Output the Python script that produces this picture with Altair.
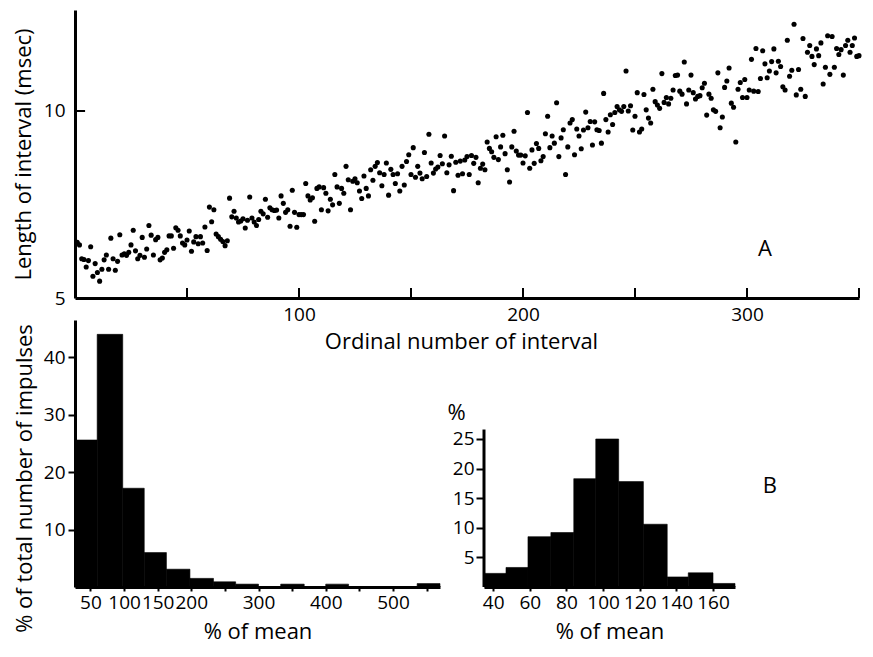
import altair as alt
import pandas as pd

# ---------- Panel A: interval length vs ordinal number ----------
length_part1 = [6.49, 6.42, 6.05, 6.03, 5.83, 6.00, 6.37, 5.58, 5.92, 5.68,
                5.45, 5.77, 6.02, 6.15, 5.77, 6.60, 6.05, 5.74, 5.98, 6.69,
                6.15, 6.18, 6.14, 6.22, 6.42, 6.81, 6.26, 6.05, 6.14, 6.62,
                6.09, 6.31, 6.94, 6.68, 6.15, 6.56, 6.62, 6.02, 6.07, 6.22,
                6.29, 6.66, 6.66, 6.33, 6.88, 6.81, 6.66, 6.47, 6.42, 6.55,
                6.79, 6.25, 6.50, 6.64, 6.45, 6.64, 6.47, 6.90, 6.27, 7.43,
                7.04, 7.36, 6.71, 6.64, 6.57, 6.51, 6.40, 6.53, 7.67, 7.17,
                7.32, 7.14, 7.03, 7.06, 7.12, 6.87, 7.08, 7.70, 7.14, 7.03,
                6.94, 7.10, 7.32, 7.25, 7.64, 7.16, 7.41, 7.36, 7.34, 7.35,
                7.14, 7.73]
length_part2 = [7.53, 7.29, 7.36, 6.92, 7.88, 7.29, 6.89, 7.23, 7.23,
                7.23, 8.06, 7.73, 7.62, 7.68, 7.05, 7.93, 7.97, 7.36, 7.95,
                7.80, 7.33, 7.64, 7.49, 8.30, 7.97, 7.53, 7.93, 7.80, 8.52,
                8.16, 7.36, 8.12, 8.19, 8.08, 7.86, 7.66, 8.26, 7.93, 7.73,
                8.43, 8.15, 8.52, 8.62, 8.35, 8.00, 8.30, 8.61, 7.75, 8.44,
                8.30, 8.06, 8.32, 7.86, 8.52, 8.02, 8.65, 8.83, 8.30, 9.02,
                8.23, 8.52, 8.34, 8.19, 8.89, 8.25, 9.38, 8.61, 8.34, 8.45,
                8.50, 8.81, 8.59, 9.33, 8.35, 8.56, 8.79, 7.87, 8.63, 8.28,
                8.66, 8.32, 8.69, 8.78, 8.30, 8.81, 8.60, 8.76, 8.08, 8.47]
length_part3 = [8.58, 8.43, 9.17, 9.00, 8.91, 8.76, 9.31, 8.70, 9.04, 9.35,
                8.86, 8.43, 8.10, 9.04, 9.46, 8.93, 8.82, 8.82, 8.61, 8.80,
                9.96, 8.47, 8.96, 8.60, 9.13, 9.00, 8.67, 8.78, 9.39, 9.86,
                9.02, 9.33, 9.14, 10.22, 8.78, 9.28, 9.50, 8.30, 9.04, 9.68,
                9.77, 8.83, 9.52, 9.33, 8.99, 9.49, 9.97, 9.55, 9.72, 9.09,
                9.71, 9.50, 9.48, 9.14, 10.47, 9.77, 9.44, 9.90, 9.64,
                9.96, 10.12, 10.03, 9.99, 10.12, 11.07, 10.00, 10.14, 9.49, 9.86,
                10.49, 9.44, 9.52, 10.44, 10.03, 9.81, 9.68, 10.58, 10.25, 10.16,
                10.07, 11.00, 10.23, 10.36, 10.19, 10.34, 10.56, 10.95]
length_part4 = [10.96, 10.53, 10.45, 11.31, 10.19, 10.56, 10.96, 10.49, 10.32, 10.39,
                10.41, 10.62, 10.74, 9.89, 10.45, 10.34, 10.03, 9.99, 11.02, 9.55,
                9.84, 10.63, 10.80, 11.15, 10.21, 10.10, 9.17, 10.58, 10.76, 10.36,
                10.84, 10.36, 10.56, 11.38, 10.53, 11.67, 10.52, 10.87, 11.61,
                11.26, 10.89, 11.07, 11.32, 11.66, 11.02, 11.33, 11.19, 10.65, 10.56,
                11.89, 10.93, 11.09, 12.32, 10.43, 11.11, 10.58, 11.94, 10.39, 11.57,
                11.75, 11.46, 11.24, 11.66, 11.48, 11.82, 10.72, 11.17, 12.01,
                10.98, 11.99, 11.17, 11.67, 11.51, 11.64, 10.96, 11.75, 11.89, 11.57,
                11.75, 11.95, 11.46, 11.48]

lengths = length_part1 + length_part2 + length_part3 + length_part4
ordinals = list(range(1, len(lengths) + 1))

a_tick_values = [50, 100, 150, 200, 250, 300, 350]
a_y_ticks = [5, 10]

# ---------- Panel B: histograms ----------
wide_lo = [27, 60, 98, 130, 163, 198, 233, 266, 300, 333, 368, 400, 434, 467, 501, 536]
wide_hi = [60, 98, 130, 163, 198, 233, 266, 300, 333, 368, 400, 434, 467, 501, 536, 570]
wide_pct = [25.6, 44.0, 17.2, 6.0, 3.1, 1.5, 0.9, 0.5, 0.0, 0.5, 0.0, 0.5, 0.0, 0.0, 0.0, 0.6]
wide_ticks = [50, 100, 150, 200, 250, 300, 350, 400, 450, 500, 550]
wide_yticks = [10, 20, 30, 40]

narrow_lo = [35, 47, 59, 71.5, 84, 96, 108.5, 122, 135, 146.5, 160]
narrow_hi = [47, 59, 71.5, 84, 96, 108.5, 122, 135, 146.5, 160, 172]
narrow_pct = [2.3, 3.3, 8.5, 9.2, 18.3, 25.0, 17.8, 10.6, 1.7, 2.4, 0.6]
narrow_ticks = [40, 60, 80, 100, 120, 140, 160]
narrow_yticks = [5, 10, 15, 20, 25]

FONT = "Open Sans"
LBL = 19
TTL = 22

# ---------------- Panel A ----------------
df_a = pd.DataFrame({"ordinal": ordinals, "length": lengths})
xa = alt.X("ordinal:Q",
           scale=alt.Scale(domain=[0, 350], nice=False, zero=False),
           axis=alt.Axis(title="Ordinal number of interval", values=a_tick_values,
                         labelExpr="datum.value % 100 == 0 ? datum.label : ''",
                         ticks=False, labelPadding=7, titlePadding=7,
                         labelFlush=False, labelOverlap=False, titleX=386))
ya = alt.Y("length:Q",
           scale=alt.Scale(domain=[5, 12.7], nice=False, zero=False),
           axis=alt.Axis(title="Length of interval (msec)", values=a_y_ticks,
                         ticks=False, labelPadding=10, titlePadding=8))

points = alt.Chart(df_a).mark_circle(size=26, color="black", opacity=1).encode(x=xa, y=ya)

ticks_df = pd.DataFrame(
    [{"ordinal": v, "ordinal2": v, "length": 5, "length2": 5.27} for v in a_tick_values]
    + [{"ordinal": 0, "ordinal2": 4.5, "length": t, "length2": t} for t in a_y_ticks if t > 5]
)
a_ticks = alt.Chart(ticks_df).mark_rule(color="black", strokeWidth=2).encode(
    x=xa, x2="ordinal2:Q", y=ya, y2="length2:Q")

a_label = alt.Chart(pd.DataFrame({"ordinal": [308], "length": [6.3], "t": ["A"]})).mark_text(
    font=FONT, fontSize=TTL, color="black").encode(x=xa, y=ya, text="t:N")

panel_a = alt.layer(points, a_ticks, a_label).properties(width=784, height=288)

# ---------------- Panel B, left ----------------
df_w = pd.DataFrame({"lo": wide_lo, "hi": wide_hi, "pct": wide_pct})
xw = alt.X("lo:Q", scale=alt.Scale(domain=[27, 570], nice=False, zero=False),
           axis=alt.Axis(title="% of mean", values=wide_ticks,
                         labelExpr="(datum.value <= 200 || datum.value % 100 == 0) ? datum.label : ''",
                         tickSize=4, labelPadding=2, titlePadding=9,
                         labelFlush=False, labelOverlap=False))
yw = alt.Y("pct:Q", scale=alt.Scale(domain=[0, 46.5], nice=False),
           axis=alt.Axis(title="% of total number of impulses", values=wide_yticks,
                         tickSize=7, labelPadding=3, titlePadding=7, titleY=158))
panel_b1 = alt.Chart(df_w).mark_rect(color="black", stroke="black", strokeWidth=0.6).encode(
    x=xw, x2="hi:Q", y=yw, y2=alt.datum(0)).properties(width=365, height=267)

# ---------------- Panel B, right ----------------
df_n = pd.DataFrame({"lo": narrow_lo, "hi": narrow_hi, "pct": narrow_pct})
xn = alt.X("lo:Q", scale=alt.Scale(domain=[35, 172], nice=False, zero=False),
           axis=alt.Axis(title="% of mean", values=narrow_ticks,
                         tickSize=4, labelPadding=2, titlePadding=9,
                         labelFlush=False, labelOverlap=False))
yn = alt.Y("pct:Q", scale=alt.Scale(domain=[0, 45.1], nice=False),
           axis=alt.Axis(title=None, values=narrow_yticks, domain=False,
                         tickSize=8, labelPadding=2))
bars_n = alt.Chart(df_n).mark_rect(color="black", stroke="black", strokeWidth=0.6).encode(
    x=xn, x2="hi:Q", y=yn, y2=alt.datum(0))
axis_line_n = alt.Chart(pd.DataFrame({"lo": [35], "pct": [0], "top": [26.6]})).mark_rule(
    color="black", strokeWidth=3).encode(x=xn, y=yn, y2="top:Q")
labels_n = alt.Chart(pd.DataFrame({"lo": [20.0, 191.0], "pct": [29.4, 17.1], "t": ["%", "B"]})).mark_text(
    font=FONT, fontSize=TTL, color="black").encode(x=xn, y=yn, text="t:N")
panel_b2 = alt.layer(bars_n, axis_line_n, labels_n).properties(width=251, height=267)

row_b = alt.hconcat(panel_b1, panel_b2, spacing=44, bounds="flush")

chart = alt.vconcat(
    panel_a, row_b, spacing=22, bounds="flush",
    padding={"left": 4, "top": 2, "right": 0, "bottom": 2}, background="white"
).configure_view(
    stroke=None
).configure_axis(
    grid=False, domainColor="black", domainWidth=3, tickColor="black", tickWidth=2,
    labelColor="black", titleColor="black", labelFont=FONT, titleFont=FONT,
    labelFontSize=LBL, titleFontSize=TTL, titleFontWeight="normal"
)

chart.save("out.html", embed_options={"renderer": "svg", "actions": False})
